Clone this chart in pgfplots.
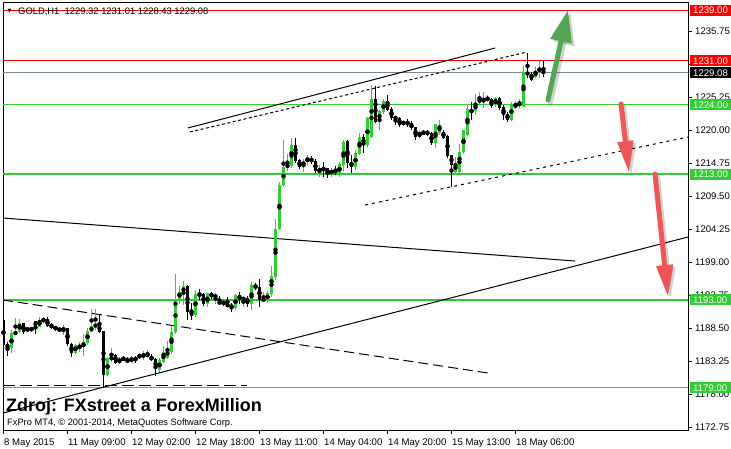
\documentclass[border=0pt]{standalone}
\usepackage{pgfplots}
\pgfplotsset{compat=1.18}
\usepackage{pgfplotstable}
\usepackage{fontspec}
\setmainfont{Liberation Sans}
\newfontfamily\dejavu{DejaVu Sans}
\usetikzlibrary{arrows.meta}
\definecolor{cgreen}{RGB}{50,205,50}
\definecolor{cred}{RGB}{255,0,0}
\definecolor{cbid}{RGB}{119,136,153}
\definecolor{agreen}{RGB}{82,168,82}
\definecolor{ared}{RGB}{240,86,86}

\pgfplotstableread{
k o h l c
2 1185.3 1188.2 1184.6 1187.7
3 1187.5 1190.1 1187.4 1187.9
4 1187.9 1189.9 1187.7 1189.3
6 1188.1 1188.7 1187.8 1188.5
7 1188.2 1188.6 1188.0 1188.5
9 1188.7 1190.3 1188.6 1189.8
10 1189.7 1190.2 1189.3 1189.9
15 1187.9 1189.0 1187.4 1188.7
18 1184.6 1186.0 1184.4 1185.8
19 1185.3 1186.3 1184.7 1185.8
20 1185.5 1187.5 1184.1 1186.3
21 1186.2 1188.5 1185.8 1188.0
22 1187.9 1191.6 1187.8 1188.8
23 1188.8 1191.5 1188.2 1189.0
26 1181.0 1183.9 1180.9 1183.7
27 1183.4 1185.4 1183.1 1184.0
29 1183.0 1183.9 1182.8 1183.5
30 1183.3 1184.0 1183.2 1183.9
32 1183.1 1184.0 1182.9 1183.9
34 1183.8 1184.5 1183.6 1184.2
35 1183.8 1184.8 1183.5 1184.5
36 1183.9 1185.0 1183.7 1184.6
39 1181.8 1183.8 1181.5 1183.4
40 1183.1 1185.5 1182.9 1184.7
41 1183.8 1186.5 1183.5 1185.1
42 1184.7 1188.9 1184.4 1187.9
43 1187.8 1197.1 1187.6 1193.2
44 1193.1 1195.2 1192.4 1194.3
45 1194.0 1196.0 1192.2 1195.2
48 1190.6 1194.5 1190.3 1194.0
51 1192.3 1194.1 1191.9 1194.0
53 1193.4 1194.1 1192.3 1193.7
58 1191.7 1194.0 1191.4 1193.7
60 1193.0 1193.5 1191.9 1193.3
62 1192.3 1195.8 1191.3 1195.4
65 1192.8 1194.2 1192.6 1193.2
66 1192.8 1194.4 1192.5 1194.1
67 1194.0 1198.4 1193.5 1196.8
68 1196.7 1205.8 1196.1 1204.3
69 1204.2 1211.8 1204.1 1211.2
70 1211.2 1218.4 1210.9 1214.1
71 1213.9 1216.2 1213.4 1214.7
72 1214.3 1218.7 1213.9 1217.6
75 1214.2 1215.4 1213.4 1215.1
76 1214.9 1216.1 1214.4 1215.7
79 1213.4 1214.4 1212.6 1213.9
82 1213.0 1214.0 1212.6 1213.7
84 1213.0 1214.9 1212.6 1214.6
85 1214.4 1218.4 1213.4 1218.1
88 1214.1 1216.8 1213.6 1216.3
89 1216.2 1219.6 1216.0 1218.9
91 1217.6 1222.1 1217.3 1221.9
92 1218.9 1227.2 1218.7 1224.9
94 1221.4 1223.2 1220.0 1223.0
95 1222.8 1224.9 1222.6 1224.6
100 1220.8 1221.6 1220.6 1221.4
104 1218.9 1220.0 1218.7 1219.6
105 1219.4 1220.0 1219.2 1219.7
108 1217.9 1221.0 1217.2 1220.9
109 1219.6 1221.6 1219.2 1220.8
113 1213.3 1215.7 1213.1 1214.7
114 1213.3 1217.7 1213.1 1216.5
115 1216.5 1220.0 1216.2 1220.0
116 1219.2 1224.1 1219.1 1223.3
118 1223.0 1225.7 1222.4 1224.3
119 1224.3 1226.0 1224.1 1225.1
120 1224.5 1226.1 1223.5 1224.9
121 1224.8 1225.5 1224.5 1225.1
123 1224.0 1225.3 1223.7 1225.1
127 1221.6 1224.5 1221.4 1224.2
128 1223.5 1224.6 1223.3 1224.3
129 1223.9 1225.0 1223.5 1224.4
130 1223.7 1230.2 1223.6 1229.3
133 1228.5 1230.0 1228.2 1229.4
134 1229.3 1230.9 1228.3 1229.9
}\bull

\pgfplotstableread{
k o h l c
0 1189.8 1190.1 1185.5 1185.8
1 1185.9 1186.3 1184.1 1185.3
5 1189.3 1189.3 1187.5 1187.8
8 1189.6 1189.6 1187.6 1188.8
11 1189.9 1190.2 1188.6 1188.8
12 1189.1 1189.3 1188.3 1188.6
13 1188.7 1188.9 1188.1 1188.3
14 1188.4 1188.6 1187.9 1188.1
16 1188.5 1188.5 1185.7 1186.0
17 1186.0 1186.2 1183.9 1184.6
24 1189.0 1190.6 1187.7 1187.9
25 1188.0 1188.0 1179.0 1181.0
28 1184.2 1184.4 1182.8 1183.0
31 1183.5 1183.9 1182.9 1183.1
33 1183.8 1184.1 1183.0 1183.3
37 1184.0 1184.3 1183.2 1183.4
38 1183.5 1183.7 1180.9 1182.1
46 1195.2 1195.3 1189.8 1191.1
47 1191.2 1192.5 1189.8 1190.5
49 1194.0 1194.7 1193.0 1193.6
50 1193.9 1194.1 1192.0 1192.3
52 1194.1 1194.3 1193.1 1193.4
54 1192.7 1193.6 1192.2 1192.4
55 1192.8 1193.0 1192.0 1192.2
56 1192.4 1193.5 1191.8 1191.9
57 1192.2 1192.5 1191.1 1191.7
59 1193.7 1194.3 1192.4 1193.1
61 1193.3 1193.6 1191.9 1192.3
63 1195.4 1195.7 1194.5 1194.8
64 1195.0 1196.3 1191.9 1193.0
73 1217.6 1218.8 1214.8 1215.1
74 1215.2 1215.4 1213.8 1214.2
77 1215.5 1215.9 1214.6 1214.9
78 1215.1 1215.4 1213.1 1213.4
80 1213.9 1214.9 1212.6 1213.7
81 1213.9 1214.0 1212.3 1213.0
83 1213.5 1214.3 1212.8 1213.4
86 1218.2 1218.4 1213.9 1214.7
87 1214.9 1216.0 1213.1 1214.1
90 1218.9 1219.3 1216.4 1217.6
93 1224.9 1227.0 1221.2 1221.3
96 1224.6 1225.6 1223.0 1223.2
97 1223.3 1223.7 1221.6 1221.9
98 1222.0 1222.3 1220.8 1221.9
99 1221.9 1222.1 1220.5 1220.8
101 1221.4 1221.8 1220.5 1220.8
102 1221.1 1221.4 1220.0 1220.3
103 1220.4 1220.5 1218.4 1218.9
106 1219.8 1220.0 1219.1 1219.3
107 1219.5 1219.7 1217.7 1217.9
110 1219.7 1220.0 1218.6 1218.7
111 1219.0 1219.2 1215.6 1215.9
112 1216.1 1216.1 1211.0 1214.4
117 1223.2 1224.5 1221.6 1222.8
122 1225.0 1225.1 1223.5 1223.9
124 1225.1 1225.3 1223.2 1223.5
125 1223.7 1224.0 1221.6 1222.4
126 1222.6 1222.8 1221.3 1221.6
131 1229.3 1232.2 1228.2 1228.7
132 1228.9 1229.3 1227.8 1228.0
135 1229.32 1231.01 1228.43 1229.08
}\bear

\begin{document}
\begin{tikzpicture}
\useasboundingbox (-3pt,-18pt) rectangle (728pt,430pt);
\begin{axis}[
  scale only axis, width=685pt, height=428pt,
  xmin=-0.125, xmax=171.125, ymin=1172.28, ymax=1240.36,
  axis line style={line width=0.8pt, black},
  tick align=outside, major tick length=4pt,
  tick style={line width=0.8pt, black},
  xtick pos=bottom, ytick pos=right, yticklabel pos=right,
  xtick={0,16,32,48,64,80,96,112,128},
  xticklabels={8 May 2015, 11 May 09:00, 12 May 02:00, 12 May 18:00, 13 May 11:00, 14 May 04:00, 14 May 20:00, 15 May 13:00, 18 May 06:00},
  ytick={1172.75,1178,1183.25,1188.5,1193.75,1199,1204.25,1209.5,1214.75,1220,1225.25,1230.5,1235.75},
  yticklabels={1172.75,1178.00,1183.25,1188.50,1193.75,1199.00,1204.25,1209.50,1214.75,1220.00,1225.25,,1235.75},
  tick label style={font=\fontsize{9.6}{10}\selectfont},
  xticklabel style={anchor=north west, inner sep=0pt, yshift=-5pt, xshift=0.5pt},
  yticklabel style={anchor=west, inner sep=0pt, xshift=3pt},
]
% level lines
\addplot[cred, line width=1pt, forget plot] coordinates {(-0.125,1239) (171.125,1239)};
\addplot[cred, line width=1pt, forget plot] coordinates {(-0.125,1231) (171.125,1231)};
\addplot[cbid, line width=1pt, forget plot] coordinates {(-0.125,1229.08) (171.125,1229.08)};
\addplot[cgreen, line width=1pt, forget plot] coordinates {(-0.125,1224) (171.125,1224)};
\addplot[cgreen, line width=2pt, forget plot] coordinates {(-0.125,1213) (171.125,1213)};
\addplot[cgreen, line width=2pt, forget plot] coordinates {(-0.125,1193) (171.125,1193)};
\addplot[cgreen, line width=1pt, forget plot] coordinates {(-0.125,1179) (171.125,1179)};
% trend lines
\addplot[black, line width=1pt] coordinates {(46.1,1220.32) (122.9,1233.04)};
\addplot[black, line width=1pt, dash pattern=on 3pt off 2.5pt] coordinates {(46.6,1219.68) (130.9,1232.41)};
\addplot[black, line width=1pt] coordinates {(-0.125,1206.0) (142.9,1199.16)};
\addplot[black, line width=1pt] coordinates {(-0.125,1174.98) (171.125,1202.98)};
\addplot[black, line width=1pt, dash pattern=on 10pt off 5pt] coordinates {(-0.125,1192.96) (121.6,1181.3)};
\addplot[black, line width=1pt, dash pattern=on 12pt off 5pt] coordinates {(-0.125,1179.3) (60.9,1179.3)};
\addplot[black, line width=1pt, dash pattern=on 3pt off 4pt] coordinates {(90.4,1208.07) (171.125,1218.89)};
% wicks
\addplot[only marks, mark=none, error bars/.cd, y dir=both, y explicit, error mark=none,
  error bar style={line width=1pt, cgreen}]
  table[x=k, y expr={(\thisrow{h}+\thisrow{l})/2}, y error expr={(\thisrow{h}-\thisrow{l})/2}] {\bull};
\addplot[only marks, mark=none, error bars/.cd, y dir=both, y explicit, error mark=none,
  error bar style={line width=1pt, black}]
  table[x=k, y expr={(\thisrow{h}+\thisrow{l})/2}, y error expr={(\thisrow{h}-\thisrow{l})/2}] {\bear};
% bodies
\addplot[only marks, mark=none, error bars/.cd, y dir=both, y explicit, error mark=none,
  error bar style={line width=3pt, cgreen}]
  table[x=k, y expr={(\thisrow{o}+\thisrow{c})/2}, y error expr={max(abs(\thisrow{c}-\thisrow{o})/2,0.08)}] {\bull};
\addplot[only marks, mark=none, error bars/.cd, y dir=both, y explicit, error mark=none,
  error bar style={line width=3pt, black}]
  table[x=k, y expr={(\thisrow{o}+\thisrow{c})/2}, y error expr={max(abs(\thisrow{c}-\thisrow{o})/2,0.08)}] {\bear};
\end{axis}
% overlay in reference pixel coordinates
\begin{scope}[x=1pt, y=-1pt, shift={(-3pt,430pt)}]
  \draw[black, opacity=0.18, line width=5pt, line cap=round, -{Triangle[width=21pt,length=32pt]}] (550.5,102.5) -- (570.5,12.5);
  \draw[agreen, line width=5pt, line cap=round, -{Triangle[width=21pt,length=32pt]}] (548,100) -- (568,10);
  \draw[black, opacity=0.18, line width=5pt, line cap=round, -{Triangle[width=15pt,length=32pt]}] (623.5,106.5) -- (631.5,175.5);
  \draw[ared, line width=5pt, line cap=round, -{Triangle[width=15pt,length=32pt]}] (621,104) -- (629,173);
  \draw[black, opacity=0.18, line width=5pt, line cap=round, -{Triangle[width=16pt,length=32pt]}] (657.5,176.5) -- (670.5,299.5);
  \draw[ared, line width=5pt, line cap=round, -{Triangle[width=16pt,length=32pt]}] (655,174) -- (668,297);
  \node[anchor=base west, inner sep=0pt, font=\fontsize{9.4}{10}\selectfont] at (18,15) {GOLD,H1\ \ 1229.32 1231.01 1228.43 1229.08};
  \node[anchor=center, inner sep=0pt, font=\dejavu\fontsize{5}{6}\selectfont] at (9.5,11) {▼};
  \node[anchor=base west, inner sep=0pt, font=\bfseries\fontsize{18}{20}\selectfont] at (6,411.5) {Zdroj: FXstreet a ForexMillion};
  \node[anchor=base west, inner sep=0pt, font=\fontsize{9.3}{10}\selectfont] at (7,425.5) {FxPro MT4, © 2001-2014, MetaQuotes Software Corp.};
  \foreach \yy/\col/\txt in {10.6/cred/1239.00, 60.9/cred/1231.00, 72.9/black/1229.08, 104.8/cgreen/1224.00, 174.0/cgreen/1213.00, 299.7/cgreen/1193.00, 387.7/cgreen/1179.00}{
    \fill[\col] (689.5,\yy-5.5) rectangle (731,\yy+5.5);
    \node[anchor=west, inner sep=0pt, text=white, font=\fontsize{9.6}{10}\selectfont] at (693,\yy) {\txt};
  }
\end{scope}
\end{tikzpicture}
\end{document}
